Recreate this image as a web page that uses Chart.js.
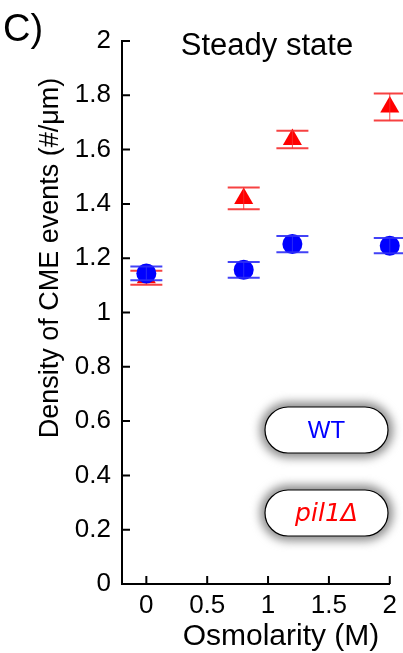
<!DOCTYPE html>
<html>
<head>
<meta charset="utf-8">
<script src="https://cdn.jsdelivr.net/npm/chart.js@4/dist/chart.umd.min.js"></script>
<style>
  html, body { margin: 0; padding: 0; background: #fff; }
  canvas { display: block; }
</style>
</head>
<body>
<canvas id="myChart" width="403" height="653"></canvas>
<script>
/* steady state CME density vs osmolarity */

const osmolarity = [0, 0.8, 1.2, 2]

const wtDensity = [1.144, 1.157, 1.252, 1.246]
const wtErr = [0.025, 0.029, 0.030, 0.028]

const pilDensity = [1.128, 1.420, 1.637, 1.757]
const pilErr = [0.026, 0.040, 0.032, 0.050]

const xTicks = [0, 0.5, 1, 1.5, 2]
const yTicks = [0, 0.2, 0.4, 0.6, 0.8, 1, 1.2, 1.4, 1.6, 1.8, 2]

const seriesNames = ['WT', 'pil1Δ']
const panelLabel = 'C)'
const panelTitle = 'Steady state'
const xTitle = 'Osmolarity (M)'
const yTitle = 'Density of CME events (#/μm)'

const FONT = '"Liberation Sans", Arial, sans-serif'

const toPoints = (ys) => osmolarity.map((x, i) => ({ x: x, y: ys[i] }))

// error bars, drawn right after each dataset so the stacking follows the markers
const errorBars = {
  id: 'errorBars',
  afterDatasetDraw(chart, args) {
    const ds = chart.data.datasets[args.index]
    const meta = args.meta
    const yScale = chart.scales.y
    const ctx = chart.ctx
    ctx.save()
    ctx.strokeStyle = ds.errColor
    meta.data.forEach((pt, i) => {
      const v = ds.data[i].y, e = ds.err[i]
      const top = yScale.getPixelForValue(v + e)
      const bot = yScale.getPixelForValue(v - e)
      ctx.lineWidth = 1
      ctx.beginPath()
      ctx.moveTo(pt.x, top)
      ctx.lineTo(pt.x, bot)
      ctx.stroke()
      ctx.lineWidth = 2
      ctx.beginPath()
      ctx.moveTo(pt.x - 16, top)
      ctx.lineTo(pt.x + 16, top)
      ctx.moveTo(pt.x - 16, bot)
      ctx.lineTo(pt.x + 16, bot)
      ctx.stroke()
    })
    ctx.restore()
  }
}

// inward tick marks on both axes
const innerTicks = {
  id: 'innerTicks',
  afterDraw(chart) {
    const { ctx, chartArea: a, scales } = chart
    ctx.save()
    ctx.strokeStyle = '#000'
    ctx.lineWidth = 2
    ctx.beginPath()
    scales.x.ticks.forEach(t => {
      const px = scales.x.getPixelForValue(t.value)
      ctx.moveTo(px, a.bottom)
      ctx.lineTo(px, a.bottom - 8)
    })
    scales.y.ticks.forEach(t => {
      const py = scales.y.getPixelForValue(t.value)
      ctx.moveTo(a.left, py)
      ctx.lineTo(a.left + 8, py)
    })
    ctx.stroke()
    ctx.restore()
  }
}

// titles and the pill shaped legend boxes
const decorations = {
  id: 'decorations',
  afterDraw(chart) {
    const ctx = chart.ctx
    ctx.save()
    ctx.fillStyle = '#000'
    ctx.textBaseline = 'middle'
    ctx.textAlign = 'left'
    ctx.font = '38px ' + FONT
    ctx.fillText(panelLabel, 3, 31)
    ctx.font = '31px ' + FONT
    ctx.textAlign = 'center'
    ctx.fillText(panelTitle, 267, 46)
    ctx.font = '30px ' + FONT
    ctx.fillText(xTitle, 281, 637)
    ctx.save()
    ctx.translate(51, 258)
    ctx.rotate(-Math.PI / 2)
    ctx.font = '27px ' + FONT
    ctx.fillText(yTitle, 0, 0)
    ctx.restore()

    chart.data.datasets.forEach((ds, i) => {
      const x = 265, y = 407 + i * 83, w = 123, h = 46, r = 23
      // soft gray halo behind the box
      ctx.save()
      ctx.filter = 'blur(5px)'
      ctx.fillStyle = 'rgb(140,140,140)'
      ctx.beginPath()
      ctx.roundRect(x - 5, y - 5, w + 10, h + 10, r + 5)
      ctx.fill()
      ctx.restore()
      ctx.beginPath()
      ctx.roundRect(x, y, w, h, r)
      ctx.fillStyle = '#fff'
      ctx.fill()
      ctx.lineWidth = 1.2
      ctx.strokeStyle = '#000'
      ctx.stroke()
      ctx.fillStyle = ds.backgroundColor
      ctx.font = ds.legendFont
      ctx.fillText(ds.label, x + w / 2, y + h / 2 + 1)
    })
    ctx.restore()
  }
}

const ctx = document.getElementById('myChart').getContext('2d')
const myChart = new Chart(ctx, {
  type: 'scatter',
  data: {
    datasets: [{
      label: seriesNames[0],
      data: toPoints(wtDensity),
      err: wtErr,
      errColor: 'rgba(45,45,245,0.9)',
      backgroundColor: '#0000ff',
      borderColor: '#0000ff',
      borderWidth: 0,
      pointStyle: 'circle',
      pointRadius: 10,
      clip: false,
      legendFont: '24px ' + FONT
    }, {
      label: seriesNames[1],
      data: toPoints(pilDensity),
      err: pilErr,
      errColor: 'rgba(245,45,45,0.9)',
      backgroundColor: '#ff0000',
      borderColor: '#ff0000',
      borderWidth: 0,
      pointStyle: 'triangle',
      pointRadius: 11,
      clip: false,
      legendFont: 'italic 25px "DejaVu Sans", sans-serif'
    }]
  },
  options: {
    responsive: false,
    animation: false,
    devicePixelRatio: 1,
    layout: { padding: { top: 41, right: 10, left: 0, bottom: 0 } },
    plugins: {
      legend: { display: false },
      tooltip: { enabled: false }
    },
    scales: {
      x: {
        type: 'linear',
        min: -0.2,
        max: 2,
        afterBuildTicks: s => { s.ticks = xTicks.map(v => ({ value: v })) },
        afterFit: s => { s.height = 69 },
        grid: { display: false, drawTicks: false },
        border: { display: true, color: '#000', width: 2 },
        ticks: {
          color: '#000',
          padding: 6,
          maxRotation: 0,
          font: { family: FONT, size: 26 },
          callback: v => String(v)
        }
      },
      y: {
        type: 'linear',
        min: 0,
        max: 2,
        afterBuildTicks: s => { s.ticks = yTicks.map(v => ({ value: v })) },
        afterFit: s => { s.width = 122 },
        grid: { display: false, drawTicks: false },
        border: { display: true, color: '#000', width: 2 },
        ticks: {
          color: '#000',
          padding: 11,
          font: { family: FONT, size: 26 },
          callback: v => String(v)
        }
      }
    }
  },
  plugins: [errorBars, innerTicks, decorations]
})
</script>
</body>
</html>
